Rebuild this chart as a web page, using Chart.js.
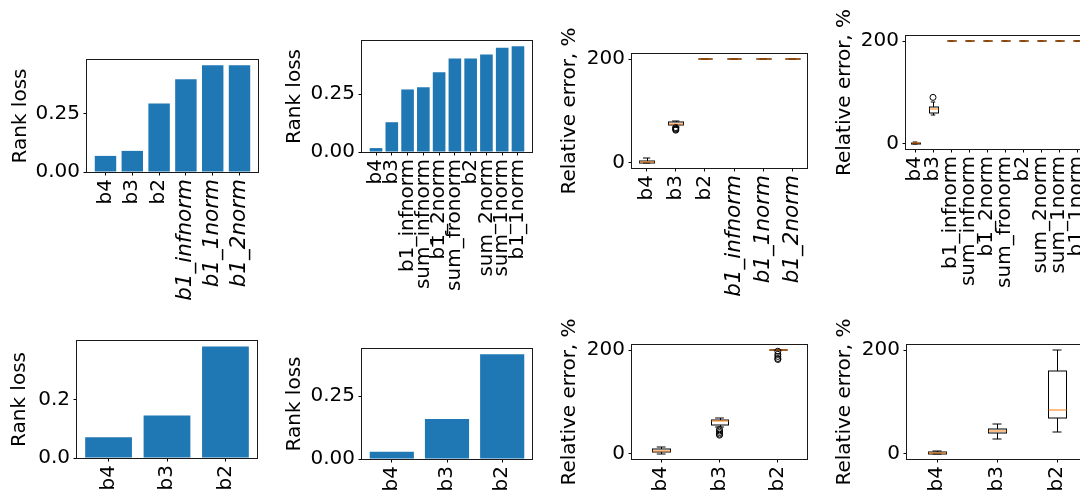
<!DOCTYPE html>
<html><head><meta charset="utf-8">
<script src="https://cdn.jsdelivr.net/npm/chart.js@4.4.1/dist/chart.umd.min.js"></script>
<style>
html,body{margin:0;padding:0;width:1080px;height:493px;overflow:hidden;background:#fff;position:relative}
canvas{position:absolute}
</style>
</head><body>
<script>
// ---------- DATA ----------
const catsA = ['b4','b3','b2','b1_infnorm','b1_1norm','b1_2norm'];
const catsB = ['b4','b3','b1_infnorm','sum_infnorm','b1_2norm','sum_fronorm','b2','sum_2norm','sum_1norm','b1_1norm'];
const catsC = ['b4','b3','b2'];

const rankLoss1 = [0.069, 0.0905, 0.293, 0.397, 0.457, 0.457];
const rankLoss2 = [0.017, 0.129, 0.271, 0.280, 0.345, 0.405, 0.405, 0.422, 0.452, 0.458];
const rankLoss5 = [0.0705, 0.1455, 0.3806];
const rankLoss6 = [0.0288, 0.159, 0.4159];

// box stats: [lowWhisker, q1, median, q3, highWhisker]
const relErr3 = [[0,0.5,2.5,4,10],[70,73,75.5,78,80],[200,200,200,200,200],[200,200,200,200,200],[200,200,200,200,200],[200,200,200,200,200]];
const outliers3 = [[],[68,66,64.5,63],[],[],[],[]];
const relErr4 = [[0,0.3,1,2,3],[56.7,60.6,67,72.3,81.5],[200,200,200,200,200],[200,200,200,200,200],[200,200,200,200,200],[200,200,200,200,200],[200,200,200,200,200],[200,200,200,200,200],[200,200,200,200,200],[200,200,200,200,200]];
const outliers4 = [[],[90.5],[],[],[],[],[],[],[],[]];
const relErr7 = [[0,3.3,5.8,8.5,13.5],[52,56,63,65,70],[200,200,200,200,200]];
const outliers7 = [[],[47,44,41,38,36],[198,192,188,184,182]];
const relErr8 = [[0,0.5,1.5,3,4.5],[28,40,44.5,48.4,58],[43,70,84,160,200]];
const outliers8 = [[],[],[]];

const rankTicksA = [0, 0.25], rankTickLabelsA = ['0.00','0.25'];
const rankTicksC = [0, 0.2],  rankTickLabelsC = ['0.0','0.2'];
const errTicks = [0, 200], errTickLabels = ['0','200'];
const italicLabels = ['b1_infnorm','b1_1norm','b1_2norm'];

// ---------- LAYOUT ----------
Chart.defaults.font.family = 'DejaVu Sans';
Chart.defaults.font.size = 20;
Chart.defaults.color = '#000';

const colLeft = [0, 270, 540, 810];
const rowTop = [0, 300];
const rowBottom = [330, 493];

const framePlugin = {
  id: 'frame',
  afterDraw(chart) {
    const {ctx, chartArea: a} = chart;
    ctx.save();
    ctx.strokeStyle = '#1a1a1a';
    ctx.lineWidth = 1;
    ctx.strokeRect(Math.round(a.left) - 0.5, Math.round(a.top) - 0.5, Math.round(a.right - a.left) + 1, Math.round(a.bottom - a.top) + 1);
    ctx.restore();
  }
};

const boxPlugin = {
  id: 'boxes',
  beforeDatasetsDraw(chart, args, opts) {
    if (!opts.stats) return;
    const {ctx, scales: {x, y}} = chart;
    const w = opts.width;
    const line = (x1, y1, x2, y2) => { ctx.beginPath(); ctx.moveTo(x1, y1); ctx.lineTo(x2, y2); ctx.stroke(); };
    ctx.save();
    ctx.lineWidth = 1;
    opts.stats.forEach((s, i) => {
      const pos = i + 1;
      const xc = Math.round(x.getPixelForValue(pos)) + 0.5;
      const xl = Math.round(x.getPixelForValue(pos - w / 2)) + 0.5, xr = Math.round(x.getPixelForValue(pos + w / 2)) + 0.5;
      const cl = x.getPixelForValue(pos - w / 4), cr = x.getPixelForValue(pos + w / 4);
      const [lo, q1, med, q3, hi] = s.map(v => Math.round(y.getPixelForValue(v)));
      ctx.strokeStyle = '#000';
      line(xc, q1, xc, lo);
      line(xc, q3, xc, hi);
      line(cl, lo, cr, lo);
      line(cl, hi, cr, hi);
      ctx.strokeRect(xl, q3, xr - xl, q1 - q3);
      ctx.strokeStyle = '#ff7f0e';
      line(xl, med, xr, med);
    });
    ctx.restore();
  }
};

function makeChart(sp) {
  const L = colLeft[sp.col], T = rowTop[sp.row], B = rowBottom[sp.row];
  const R = sp.plot.r + 30;
  const c = document.createElement('canvas');
  c.width = R - L; c.height = B - T;
  c.style.left = L + 'px'; c.style.top = T + 'px';
  c.style.width = (R - L) + 'px'; c.style.height = (B - T) + 'px';
  document.body.appendChild(c);

  const n = sp.cats.length;
  const isBar = sp.kind === 'bar';
  const positions = sp.cats.map((_, i) => isBar ? i : i + 1);
  let xmin, xmax, ymin, ymax;
  if (isBar) {
    const m = 0.05 * (n - 1 + 0.8);
    xmin = -0.4 - m; xmax = n - 1 + 0.4 + m;
    ymin = 0; ymax = Math.max(...sp.vals) * 1.05;
  } else {
    xmin = 0.5; xmax = n + 0.5;
    ymin = -10; ymax = 210;
  }
  const boxWidth = Math.min(0.15 * Math.max(n - 1, 1), 0.5);

  let datasets;
  if (isBar) {
    datasets = [{
      type: 'bar',
      data: sp.vals.map((v, i) => ({x: positions[i], y: v})),
      backgroundColor: '#1f77b4',
      borderWidth: 0,
      barPercentage: 0.8,
      categoryPercentage: 1.0
    }];
  } else {
    const pts = [];
    sp.outliers.forEach((arr, i) => arr.forEach(v => pts.push({x: positions[i], y: v})));
    datasets = [{
      type: 'scatter',
      data: pts,
      pointStyle: 'circle',
      pointRadius: 3,
      pointBorderWidth: 1,
      pointBorderColor: '#000',
      pointBackgroundColor: 'rgba(0,0,0,0)'
    }];
  }

  new Chart(c, {
    type: isBar ? 'bar' : 'scatter',
    data: {datasets},
    plugins: [boxPlugin, framePlugin],
    options: {
      responsive: false,
      animation: false,
      devicePixelRatio: 1,
      layout: {padding: {left: 0, top: sp.plot.t - T, right: R - sp.plot.r, bottom: 0}},
      plugins: {
        legend: {display: false},
        tooltip: {enabled: false},
        boxes: isBar ? {} : {stats: sp.stats, width: boxWidth}
      },
      scales: {
        x: {
          type: 'linear',
          min: xmin, max: xmax,
          offset: false,
          afterBuildTicks: ax => { ax.ticks = positions.map(v => ({value: v})); },
          afterFit: ax => { ax.height = B - sp.plot.b; },
          ticks: {
            autoSkip: false,
            maxRotation: 90, minRotation: 90,
            padding: 3.5,
            color: '#000',
            callback: (v, i) => sp.cats[i],
            font: ctx => {
              const it = sp.italic && italicLabels.includes(sp.cats[ctx.index]);
              return {family: 'DejaVu Sans', size: it ? 21.5 : 20, style: it ? 'italic' : 'normal'};
            }
          },
          grid: {display: true, drawOnChartArea: false, drawTicks: true, tickLength: 3.5, tickColor: '#000', tickWidth: 1, offset: false},
          border: {display: false}
        },
        y: {
          type: 'linear',
          min: ymin, max: ymax,
          afterBuildTicks: ax => { ax.ticks = sp.yTicks.map(v => ({value: v})); },
          afterFit: ax => { ax.width = sp.plot.l - L; },
          ticks: {padding: 3.5, color: '#000', callback: (v, i) => sp.yLabels[i]},
          grid: {display: true, drawOnChartArea: false, drawTicks: true, tickLength: 3.5, tickColor: '#000', tickWidth: 1},
          border: {display: false},
          title: {display: true, text: sp.title, color: '#000', font: {size: 20}, padding: {top: sp.tp, bottom: 0}}
        }
      }
    }
  });
}

const specs = [
  {kind:'bar', cats:catsA, vals:rankLoss1, yTicks:rankTicksA, yLabels:rankTickLabelsA, title:'Rank loss', col:0, row:0, plot:{l:87,t:60,r:258,b:172}, tp:9, italic:true},
  {kind:'bar', cats:catsB, vals:rankLoss2, yTicks:rankTicksA, yLabels:rankTickLabelsA, title:'Rank loss', col:1, row:0, plot:{l:362,t:41,r:532,b:152}, tp:13, italic:false},
  {kind:'box', cats:catsA, stats:relErr3, outliers:outliers3, yTicks:errTicks, yLabels:errTickLabels, title:'Relative error, %', col:2, row:0, plot:{l:632,t:54,r:807,b:168}, tp:18, italic:true},
  {kind:'box', cats:catsB, stats:relErr4, outliers:outliers4, yTicks:errTicks, yLabels:errTickLabels, title:'Relative error, %', col:3, row:0, plot:{l:906,t:36,r:1086,b:149}, tp:23, italic:false},
  {kind:'bar', cats:catsC, vals:rankLoss5, yTicks:rankTicksC, yLabels:rankTickLabelsC, title:'Rank loss', col:0, row:1, plot:{l:77,t:341,r:257,b:458}, tp:8, italic:false},
  {kind:'bar', cats:catsC, vals:rankLoss6, yTicks:rankTicksA, yLabels:rankTickLabelsA, title:'Rank loss', col:1, row:1, plot:{l:362,t:349,r:532,b:459}, tp:13, italic:false},
  {kind:'box', cats:catsC, stats:relErr7, outliers:outliers7, yTicks:errTicks, yLabels:errTickLabels, title:'Relative error, %', col:2, row:1, plot:{l:632,t:345,r:807,b:459}, tp:18, italic:false},
  {kind:'box', cats:catsC, stats:relErr8, outliers:outliers8, yTicks:errTicks, yLabels:errTickLabels, title:'Relative error, %', col:3, row:1, plot:{l:907,t:345,r:1087,b:459}, tp:23, italic:false}
];
specs.forEach(makeChart);
</script>
</body></html>
